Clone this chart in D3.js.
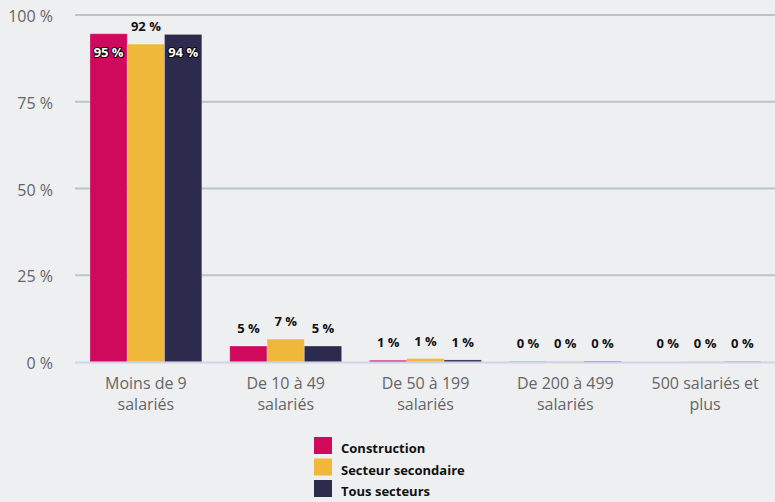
<!DOCTYPE html>
<html><head><meta charset="utf-8">
<script src="https://cdn.jsdelivr.net/npm/d3@7"></script>
<style>
html,body{margin:0;padding:0;background:#eeeff1;}
svg{display:block;font-family:"Open Sans",sans-serif;}
</style></head>
<body><svg id="c" width="775" height="502"></svg>
<script>
const categories = [["Moins de 9","salariés"],["De 10 à 49","salariés"],["De 50 à 199","salariés"],["De 200 à 499","salariés"],["500 salariés et","plus"]];
const seriesNames = ["Construction","Secteur secondaire","Tous secteurs"];
const construction = [94.6, 4.6, 0.5, 0.1, 0.0];
const secondaire   = [91.6, 6.6, 1.0, 0.2, 0.1];
const tousSecteurs = [94.4, 4.6, 0.6, 0.2, 0.1];
const yTicks = [0, 25, 50, 75, 100];
const colors = ["#cf0a5d", "#f0b83b", "#2c2a4d"];

const series = [construction, secondaire, tousSecteurs];
const svg = d3.select("#c");
const W = 775;
const y = d3.scaleLinear().domain([0, 100]).range([362, 15]);
const x0 = d3.scaleBand().domain(d3.range(categories.length)).range([76, 775]);
const x1 = d3.scaleBand().domain(d3.range(series.length)).range([0, x0.bandwidth()*0.8]);
const offset = x0.bandwidth()*0.1;

// grid
yTicks.forEach(t => {
  if (t === 0) return;
  svg.append("line").attr("x1", 75).attr("x2", W).attr("y1", y(t)).attr("y2", y(t))
    .attr("stroke", "#b8c6c6").attr("stroke-width", 2);
});
// y labels
yTicks.forEach(t => {
  svg.append("text").attr("x", 53).attr("y", y(t) + 7).attr("text-anchor", "end")
    .attr("fill", "#666").attr("font-size", 16).text(t + " %");
});

// bars
series.forEach((s, si) => {
  s.forEach((v, ci) => {
    const bx = x0(ci) + offset + x1(si);
    svg.append("rect").attr("x", bx).attr("y", y(v)).attr("width", x1.bandwidth())
      .attr("height", y(0) - y(v)).attr("fill", colors[si])
      .attr("stroke", "#fff").attr("stroke-opacity", 0.25).attr("stroke-width", 1);
  });
});
// axis line
svg.append("line").attr("x1", 75).attr("x2", W).attr("y1", 362.5).attr("y2", 362.5)
  .attr("stroke", "#ccd6eb").attr("stroke-width", 2);

// data labels
series.forEach((s, si) => {
  s.forEach((v, ci) => {
    const cx = x0(ci) + offset + x1(si) + x1.bandwidth()/2;
    const top = y(v);
    const label = Math.round(v) + " %";
    const inside = top - 21 < 15;
    const t = svg.append("text").attr("x", cx).attr("text-anchor", "middle")
      .attr("font-size", 13).attr("font-weight", 700).text(label);
    if (inside) {
      t.attr("y", top + 23).attr("fill", "#fff").attr("stroke", "#000").attr("stroke-width", 2)
        .attr("paint-order", "stroke").attr("stroke-linejoin", "round");
    } else {
      t.attr("y", Math.min(top, 361) - 13).attr("fill", "#111");
    }
  });
});

// x labels
categories.forEach((lines, ci) => {
  const cx = x0(ci) + x0.bandwidth()/2;
  lines.forEach((ln, li) => {
    svg.append("text").attr("x", cx).attr("y", 389 + li*21).attr("text-anchor", "middle")
      .attr("fill", "#666").attr("font-size", 16).text(ln);
  });
});

// legend
seriesNames.forEach((n, i) => {
  const ly = 437 + i*21.5;
  svg.append("rect").attr("x", 314).attr("y", ly).attr("width", 18).attr("height", 17).attr("fill", colors[i]);
  svg.append("text").attr("x", 341).attr("y", ly + 16).attr("font-size", 13).attr("font-weight", 700)
    .attr("fill", "#111").text(n);
});
</script></body></html>
